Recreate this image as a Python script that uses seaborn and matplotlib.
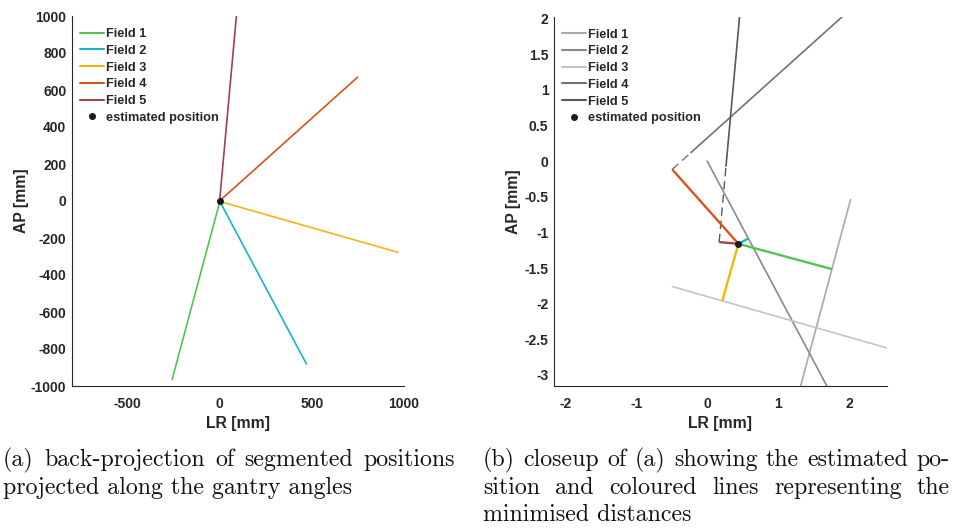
import numpy as np
import pandas as pd
import matplotlib
matplotlib.use("Agg")
import matplotlib.pyplot as plt
from matplotlib.lines import Line2D
import seaborn as sns

# Back-projection lines of the segmented positions (mm): start point near the
# isocentre and far end of each line along the gantry direction.
fields = ["Field 1", "Field 2", "Field 3", "Field 4", "Field 5"]
start_lr = [2.02, 0.0, -0.49, -0.23, 0.265]
start_ap = [-0.54, 0.0, -1.76, 0.12, -0.07]
end_lr = [-257.0, 471.0, 966.0, 748.0, 91.0]
end_ap = [-964.0, -881.0, -277.0, 669.0, 996.0]

# Estimated marker position (mm)
est_lr = 0.44
est_ap = -1.16

field_colors = ["#52c452", "#1ab2c9", "#f2b50f", "#d9531c", "#a2404b"]
field_grays = ["#a9a9a9", "#8a8a8a", "#c3c3c3", "#727272", "#585858"]

left_xticks = [-500, 0, 500, 1000]
left_yticks = [-1000, -800, -600, -400, -200, 0, 200, 400, 600, 800, 1000]
right_xticks = [-2, -1, 0, 1, 2]
right_yticks = [-3, -2.5, -2, -1.5, -1, -0.5, 0, 0.5, 1, 1.5, 2]

caption_a = ["(a) back-projection of segmented positions",
             "projected along the gantry angles"]
caption_b = ["(b) closeup of (a) showing the estimated po-",
             "sition and coloured lines representing the",
             "minimised distances"]

sns.set_theme(style="white")
plt.rcParams.update({
    "font.family": ["Liberation Sans", "DejaVu Sans"],
    "font.weight": "bold",
    "axes.labelweight": "bold",
    "axes.unicode_minus": False,
    "axes.edgecolor": "#262626",
    "axes.linewidth": 0.8,
})

INK = "#262626"

lines_df = pd.DataFrame({
    "field": np.repeat(fields, 2),
    "lr": np.ravel(np.column_stack([start_lr, end_lr])),
    "ap": np.ravel(np.column_stack([start_ap, end_ap])),
})

# Foot of the perpendicular from the estimate onto every back-projection line
p0 = np.column_stack([start_lr, start_ap])
p1 = np.column_stack([end_lr, end_ap])
direc = (p1 - p0) / np.linalg.norm(p1 - p0, axis=1, keepdims=True)
t = np.sum((np.array([est_lr, est_ap]) - p0) * direc, axis=1)
feet = p0 + t[:, None] * direc

fig = plt.figure(figsize=(9.54, 5.30), dpi=100)
W, H = 954.0, 530.0
ax_a = fig.add_axes([72 / W, 1 - 386 / H, 332 / W, 370 / H])
ax_b = fig.add_axes([554 / W, 1 - 386 / H, 332.7 / W, 369.5 / H])


def style_axes(ax, xlim, ylim, xticks, yticks, fmt, ylabel_x):
    ax.set_xlim(*xlim)
    ax.set_ylim(*ylim)
    ax.set_xticks(xticks)
    ax.set_yticks(yticks)
    ax.set_xticklabels([fmt(v) for v in xticks])
    ax.set_yticklabels([fmt(v) for v in yticks])
    sns.despine(ax=ax)
    ax.tick_params(direction="in", length=3, width=0.8, colors=INK,
                   labelsize=10, labelcolor=INK)
    ax.tick_params(axis="x", pad=8)
    ax.tick_params(axis="y", pad=4)
    ax.set_xlabel("LR [mm]", fontsize=11.3, color=INK)
    ax.set_ylabel("AP [mm]", fontsize=11.3, color=INK)
    ax.xaxis.set_label_coords(0.5, -0.082)
    ax.yaxis.set_label_coords(ylabel_x, 0.5)


def add_legend(ax, colors):
    handles = [Line2D([], [], color=c, lw=1.5) for c in colors]
    handles.append(Line2D([], [], color="k", marker="o", ls="none", ms=4))
    ax.legend(handles, fields + ["estimated position"], loc="upper left",
              bbox_to_anchor=(0.025, 0.967), frameon=False,
              handlelength=1.85, handletextpad=0.15, labelspacing=0.37,
              borderpad=0, borderaxespad=0, prop={"weight": "bold", "size": 9.2})


def fmt_int(v):
    return f"{int(v)}"


def fmt_half(v):
    return f"{v:g}"


# (a) full back-projection lines
sns.lineplot(data=lines_df, x="lr", y="ap", hue="field", hue_order=fields,
             palette=field_colors, estimator=None, sort=False, lw=1.2,
             legend=False, ax=ax_a)
ax_a.plot([est_lr], [est_ap], "o", color="k", ms=4, zorder=5)
style_axes(ax_a, (-800, 1000), (-1000, 1000), left_xticks, left_yticks,
           fmt_int, -0.13)
add_legend(ax_a, field_colors)

# (b) closeup with minimised distances
sns.lineplot(data=lines_df, x="lr", y="ap", hue="field", hue_order=fields,
             palette=field_grays, estimator=None, sort=False, lw=1.2,
             legend=False, ax=ax_b)
for i in range(len(fields)):
    if t[i] < 0:
        ax_b.plot([feet[i, 0], start_lr[i]], [feet[i, 1], start_ap[i]],
                  color=field_grays[i], lw=1.0, dashes=(6, 3.5), zorder=3)
    ax_b.plot([est_lr, feet[i, 0]], [est_ap, feet[i, 1]],
              color=field_colors[i], lw=1.7, zorder=4, solid_capstyle="butt")
ax_b.plot([est_lr], [est_ap], "o", color="k", ms=4, zorder=6)
style_axes(ax_b, (-2.16, 2.53), (-3.155, 2.03), right_xticks, right_yticks,
           fmt_half, -0.10)
add_legend(ax_b, field_grays)

# Captions set in a Computer Modern face, justified like the paper text
cap_kw = dict(family="cmr10", fontsize=17.2, fontweight="normal",
              color="#111111", va="baseline", ha="left")
renderer = fig.canvas.get_renderer()


def caption_line(text, x0, x1, y, justify):
    words = text.split(" ")
    if not justify:
        fig.text(x0 / W, 1 - y / H, text, **cap_kw)
        return
    objs = [fig.text(0, 1 - y / H, w, **cap_kw) for w in words]
    widths = [o.get_window_extent(renderer).width for o in objs]
    gap = ((x1 - x0) - sum(widths)) / (len(words) - 1)
    x = x0
    for o, w in zip(objs, widths):
        o.set_x(x / W)
        x += w + gap


baselines = [466, 494, 521]
caption_line(caption_a[0], 3, 455, baselines[0], True)
caption_line(caption_a[1], 3, 455, baselines[1], False)
caption_line(caption_b[0], 483, 950, baselines[0], True)
caption_line(caption_b[1], 483, 950, baselines[1], True)
caption_line(caption_b[2], 483, 950, baselines[2], False)

fig.savefig("out.png", dpi=100)
